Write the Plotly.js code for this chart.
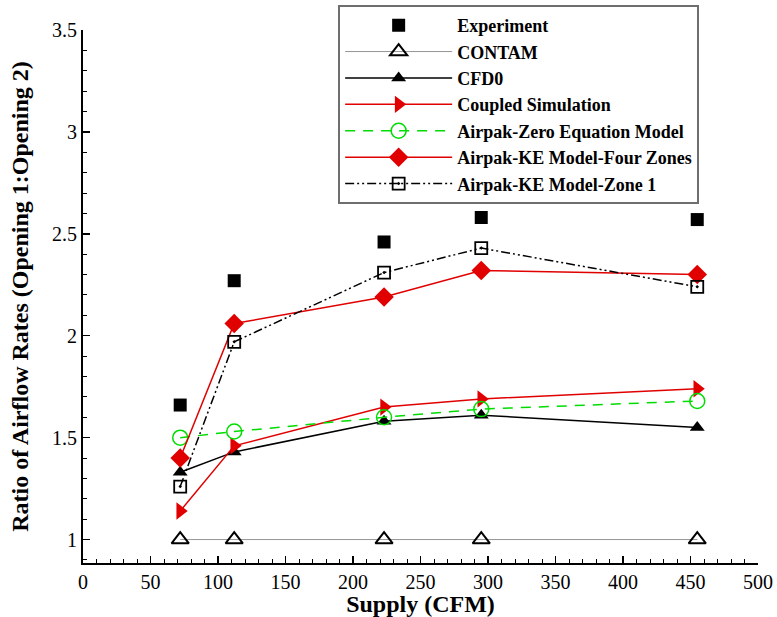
<!DOCTYPE html>
<html>
<head>
<meta charset="utf-8">
<script src="https://cdn.plot.ly/plotly-3.0.1.min.js"></script>
<style>html,body{margin:0;padding:0;background:#fff;}#chart{width:777px;height:617px;}</style>
</head>
<body>
<div id="chart"></div>
<script>
// Data
const supply = [72, 112, 223, 295, 455];
const seriesNames = [
  "Experiment",
  "CONTAM",
  "CFD0",
  "Coupled Simulation",
  "Airpak-Zero Equation Model",
  "Airpak-KE Model-Four Zones",
  "Airpak-KE Model-Zone 1"
];
const experiment = [1.66, 2.27, 2.46, 2.58, 2.57];
const contam = [1.0, 1.0, 1.0, 1.0, 1.0];
const cfd0 = [1.33, 1.43, 1.58, 1.61, 1.55];
const coupled = [1.14, 1.46, 1.65, 1.69, 1.74];
const zeroEq = [1.50, 1.53, 1.60, 1.64, 1.68];
const keFourZones = [1.40, 2.06, 2.19, 2.32, 2.30];
const keZone1 = [1.26, 1.97, 2.31, 2.43, 2.24];

const RED = "rgb(225,0,0)";
const GREEN = "rgb(0,220,0)";
const serif = "Liberation Serif";

const traces = [
  {x: supply, y: experiment, name: seriesNames[0], mode: "markers",
   marker: {symbol: "square", size: 13, color: "black"}},
  {x: supply, y: contam, name: seriesNames[1], mode: "lines+markers",
   line: {color: "rgb(150,150,150)", width: 1},
   marker: {symbol: "triangle-up-open", size: 15, color: "black", line: {width: 2, color: "black"}}},
  {x: supply, y: cfd0, name: seriesNames[2], mode: "lines+markers",
   line: {color: "black", width: 1.5},
   marker: {symbol: "triangle-up", size: 13, color: "black"}},
  {x: supply, y: coupled, name: seriesNames[3], mode: "lines+markers",
   line: {color: RED, width: 1.5},
   marker: {symbol: "triangle-right", size: 15, color: RED}},
  {x: supply, y: zeroEq, name: seriesNames[4], mode: "lines+markers",
   line: {color: GREEN, width: 1.5, dash: "10px,8px"},
   marker: {symbol: "circle-open", size: 15, color: GREEN, line: {width: 1.5, color: GREEN}}},
  {x: supply, y: keFourZones, name: seriesNames[5], mode: "lines+markers",
   line: {color: RED, width: 1.5},
   marker: {symbol: "diamond", size: 15, color: RED}},
  {x: supply, y: keZone1, name: seriesNames[6], mode: "lines+markers",
   line: {color: "black", width: 1.5, dash: "9px,3px,2px,3px,2px,3px"},
   marker: {symbol: "square-open-dot", size: 12, color: "black", line: {width: 1.8, color: "black"}}}
];

const layout = {
  width: 777, height: 617,
  margin: {l: 83, r: 19, t: 30, b: 54, pad: 0, autoexpand: false},
  paper_bgcolor: "white", plot_bgcolor: "white",
  showlegend: true,
  font: {family: serif, color: "black", size: 20},
  xaxis: {
    range: [0, 500], tickmode: "linear", tick0: 0, dtick: 50,
    ticks: "inside", ticklen: 7, tickwidth: 1.5, tickcolor: "black",
    minor: {ticks: "inside", dtick: 10, ticklen: 4, tickwidth: 1, tickcolor: "black", showgrid: false},
    showgrid: false, zeroline: false, showline: true, linecolor: "black", linewidth: 2,
    tickfont: {family: serif, size: 20, color: "black"},
    title: {text: "Supply (CFM)", font: {family: serif, size: 24, weight: "bold", color: "black"}, standoff: 2}
  },
  yaxis: {
    range: [0.885, 3.5], tickmode: "linear", tick0: 1, dtick: 0.5,
    ticks: "inside", ticklen: 7, tickwidth: 1.5, tickcolor: "black",
    minor: {ticks: "inside", dtick: 0.1, ticklen: 4, tickwidth: 1, tickcolor: "black", showgrid: false},
    showgrid: false, zeroline: false, showline: true, linecolor: "black", linewidth: 2,
    tickfont: {family: serif, size: 20, color: "black"},
    title: {text: "Ratio of Airflow Rates (Opening 1:Opening 2)", font: {family: serif, size: 24, weight: "bold", color: "black"}, standoff: 17}
  },
  legend: {
    x: 0.378, y: 1.047, xanchor: "left", yanchor: "top",
    bgcolor: "white", bordercolor: "rgb(110,110,110)", borderwidth: 2,
    font: {family: serif, size: 18, weight: "bold", color: "black"},
    itemwidth: 107
  },
  hovermode: false
};

Plotly.newPlot("chart", traces, layout, {displayModeBar: false, staticPlot: true});
</script>
</body>
</html>
